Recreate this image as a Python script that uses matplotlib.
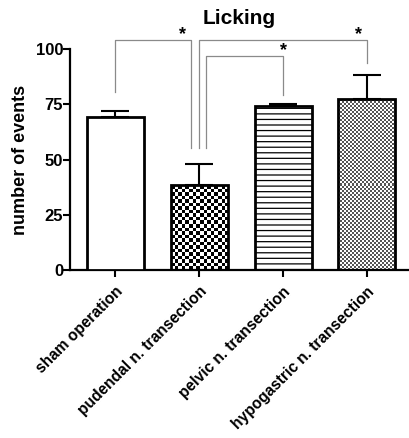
import numpy as np
import matplotlib
matplotlib.use("Agg")
import matplotlib.pyplot as plt

categories = ["sham operation", "pudendal n. transection",
              "pelvic n. transection", "hypogastric n. transection"]
means = [69.4, 38.3, 74.2, 77.2]
errors = [2.6, 9.8, 1.0, 10.9]
yticks = [0, 25, 50, 75, 100]

# significance brackets: (left group, right group)
comparisons = [(0, 1), (1, 3), (1, 2)]
leg_offsets = [(0.0, -0.1), (0.0, 0.0), (0.08, 0.0)]
bracket_tops = [104.0, 104.0, 96.8]
left_bottoms = [80.4, 55.3, 55.3]
right_bottoms = [55.3, 93.5, 79.2]
star_x = [0.8, 2.9, 2.0]
star_labels = ["*", "*", "*"]

plt.rcParams['font.family'] = ['Liberation Sans', 'DejaVu Sans']
plt.rcParams['font.weight'] = 'bold'
plt.rcParams['hatch.color'] = '#888888'
plt.rcParams['hatch.linewidth'] = 0.9

fig = plt.figure(figsize=(4.09, 4.38), dpi=100)
ax = fig.add_axes([70/409, 168/438, 338/409, 221/438])

x = np.arange(len(categories))
bars = ax.bar(x, means, width=0.68, color='white', edgecolor='black',
              linewidth=2.0, zorder=3)
bars[2].set_hatch('---')
ax.errorbar(x, means, yerr=[np.zeros(len(errors)), errors], fmt='none',
            ecolor='black', elinewidth=1.5, capsize=10, capthick=1.5, zorder=2)

ax.set_xlim(-0.54, 3.49)
ax.set_ylim(0, 100)
ax.set_yticks(yticks)
ax.set_xticks(x)
ax.set_xticklabels(categories, rotation=45, ha='right', rotation_mode='anchor',
                   fontsize=11.2, fontweight='bold')
for lab in ax.get_yticklabels():
    lab.set_fontsize(12)
    lab.set_fontweight('bold')
ax.tick_params(axis='both', direction='out', length=5, width=1.5)
ax.tick_params(axis='x', pad=5)
ax.tick_params(axis='y', pad=0)
for s in ['top', 'right']:
    ax.spines[s].set_visible(False)
for s in ['left', 'bottom']:
    ax.spines[s].set_linewidth(1.6)
ax.set_ylabel("number of events", fontsize=13, fontweight='bold', labelpad=5)
ax.set_title("Licking", fontsize=15, fontweight='bold', pad=18)

# checkerboard fills
fig.canvas.draw()
renderer = fig.canvas.get_renderer()
def checker(patch, cell_px, color):
    bb = patch.get_window_extent(renderer)
    nx = max(1, int(round(bb.width / cell_px)))
    ny = max(1, int(round(bb.height / cell_px)))
    arr = (np.add.outer(np.arange(ny), np.arange(nx)) % 2).astype(float)
    x0, y0 = patch.get_x(), patch.get_y()
    w, h = patch.get_width(), patch.get_height()
    img = ax.imshow(arr, cmap=matplotlib.colors.ListedColormap(['white', color]),
                    extent=[x0, x0 + w, y0, y0 + h], origin='lower',
                    interpolation='nearest', aspect='auto', zorder=2.5)
    img.set_clip_path(patch)
checker(bars[1], 3.5, 'black')
checker(bars[3], 2.0, '#555555')
ax.set_xlim(-0.54, 3.49)
ax.set_ylim(0, 100)
for b in [bars[1], bars[3]]:
    b.set_facecolor('none')

for (a, b), (oa, ob), top, lb, rb, sx, st in zip(comparisons, leg_offsets,
                                                 bracket_tops, left_bottoms,
                                                 right_bottoms, star_x, star_labels):
    xa, xb = x[a] + oa, x[b] + ob
    ax.plot([xa, xa, xb, xb], [lb, top, top, rb], color='#8a8a8a', lw=0.9,
            clip_on=False, zorder=1)
    ax.text(sx, top - 1.5, st, ha='center', va='bottom', fontsize=13,
            fontweight='bold', clip_on=False)

fig.savefig("out.png", dpi=100)
